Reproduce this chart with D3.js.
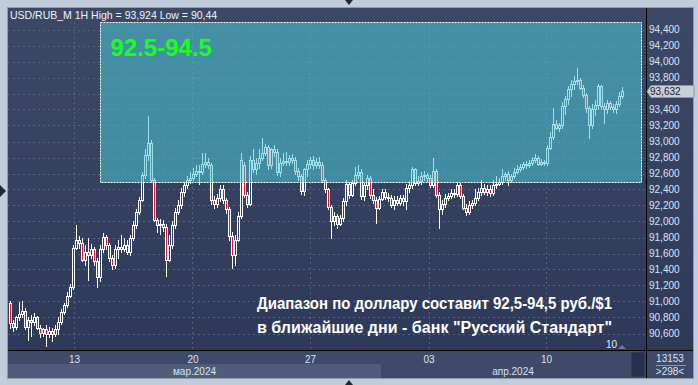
<!DOCTYPE html>
<html>
<head>
    <meta charset="utf-8">
    <title>USD/RUB_M 1H</title>
    <script src="https://d3js.org/d3.v7.min.js"></script>
    <style>
        body { margin: 0; background: #c2cddb; }
        svg { display: block; }
        text { font-family: "Liberation Sans", Arial, sans-serif; }
        .axis-label { fill: #d9e4f5; font-size: 10px; }
    </style>
</head>
<body>
    <svg id="chart"></svg>

    <script>
        // hourly candles, USD/RUB_M
        var opens = [
            90.98, 90.73, 90.68, 90.80, 90.85, 90.88, 90.68, 90.77, 90.74, 90.80,
            90.67, 90.61, 90.65, 90.60, 90.63, 90.60, 90.65, 90.74, 90.87, 90.96,
            91.07, 91.18, 91.67, 91.77, 91.73, 91.52, 91.62, 91.58, 91.65, 91.50,
            91.30, 91.65, 91.81, 91.70, 91.55, 91.45, 91.65, 91.68, 91.66, 91.71,
            91.62, 91.80, 91.96, 92.12, 92.27, 92.58, 92.83, 92.98, 92.52, 92.02,
            91.95, 91.97, 91.93, 91.52, 91.71, 91.96, 92.12, 92.20, 92.37, 92.45,
            92.52, 92.55, 92.60, 92.63, 92.62, 92.72, 92.75, 92.71, 92.27, 92.22,
            92.30, 92.40, 92.27, 92.15, 91.82, 91.58, 91.77, 92.07, 92.71, 92.33,
            92.22, 92.77, 92.65, 92.73, 92.80, 92.86, 92.93, 92.71, 92.90, 92.87,
            92.62, 92.73, 92.76, 92.75, 92.80, 92.77, 92.63, 92.57, 92.38, 92.65,
            92.72, 92.77, 92.70, 92.75, 92.71, 92.52, 92.40, 92.18, 92.00, 92.07,
            91.97, 92.05, 92.25, 92.47, 92.33, 92.48, 92.58, 92.62, 92.32, 92.45,
            92.55, 92.33, 92.27, 92.17, 92.28, 92.37, 92.31, 92.30, 92.21, 92.27,
            92.23, 92.30, 92.25, 92.42, 92.45, 92.65, 92.48, 92.51, 92.57, 92.58,
            92.55, 92.46, 92.63, 92.33, 92.15, 92.22, 92.30, 92.32, 92.36, 92.35,
            92.45, 92.32, 92.17, 92.12, 92.21, 92.23, 92.30, 92.37, 92.42, 92.37,
            92.40, 92.36, 92.45, 92.47, 92.50, 92.57, 92.60, 92.52, 92.57, 92.62,
            92.66, 92.68, 92.72, 92.71, 92.73, 92.77, 92.80, 92.72, 92.75, 92.73,
            92.92, 93.06, 93.22, 93.17, 93.20, 93.45, 93.53, 93.65, 93.72, 93.76,
            93.77, 93.67, 93.58, 93.42, 93.21, 93.40, 93.46, 93.70, 93.45, 93.40,
            93.48, 93.43, 93.40, 93.47, 93.57
        ];
        var highs = [
            91.01, 90.77, 90.82, 90.99, 91.01, 90.92, 90.80, 90.83, 90.86, 90.82,
            90.71, 90.67, 90.70, 90.68, 90.67, 90.70, 90.80, 90.91, 90.98, 91.12,
            91.22, 91.70, 91.96, 91.82, 91.80, 91.71, 91.80, 91.72, 91.68, 91.55,
            91.70, 91.86, 91.83, 91.73, 91.58, 91.70, 91.77, 91.83, 91.80, 91.77,
            91.83, 92.00, 92.15, 92.31, 92.62, 92.90, 93.32, 93.02, 92.55, 92.05,
            92.03, 92.02, 91.97, 91.83, 92.00, 92.17, 92.27, 92.42, 92.50, 92.57,
            92.62, 92.67, 92.70, 92.70, 92.86, 92.86, 92.80, 92.73, 92.32, 92.35,
            92.45, 92.45, 92.30, 92.18, 91.87, 91.83, 92.12, 92.86, 92.75, 92.37,
            92.82, 92.90, 92.80, 92.90, 93.05, 92.97, 92.96, 92.92, 92.95, 92.90,
            92.80, 92.86, 92.87, 92.83, 92.85, 92.81, 92.67, 92.60, 92.67, 92.77,
            92.81, 92.82, 92.80, 92.81, 92.75, 92.55, 92.42, 92.21, 92.12, 92.10,
            92.08, 92.30, 92.52, 92.50, 92.52, 92.68, 92.70, 92.65, 92.48, 92.58,
            92.57, 92.40, 92.31, 92.32, 92.41, 92.41, 92.36, 92.33, 92.32, 92.32,
            92.33, 92.33, 92.47, 92.51, 92.68, 92.67, 92.57, 92.62, 92.63, 92.61,
            92.58, 92.80, 92.66, 92.37, 92.27, 92.35, 92.36, 92.40, 92.41, 92.50,
            92.48, 92.35, 92.22, 92.25, 92.27, 92.40, 92.42, 92.52, 92.47, 92.45,
            92.46, 92.52, 92.57, 92.55, 92.65, 92.62, 92.63, 92.60, 92.67, 92.70,
            92.72, 92.75, 92.76, 92.77, 92.81, 92.85, 92.82, 92.78, 92.77, 92.96,
            93.12, 93.42, 93.27, 93.23, 93.50, 93.57, 93.70, 93.77, 93.82, 93.92,
            93.80, 93.71, 93.61, 93.45, 93.47, 93.52, 93.72, 93.71, 93.48, 93.52,
            93.51, 93.47, 93.51, 93.62, 93.68
        ];
        var lows = [
            90.67, 90.63, 90.65, 90.77, 90.80, 90.66, 90.52, 90.57, 90.71, 90.65,
            90.55, 90.57, 90.44, 90.55, 90.51, 90.57, 90.60, 90.72, 90.85, 90.93,
            91.05, 91.16, 91.65, 91.67, 91.50, 91.46, 91.27, 91.55, 91.46, 91.18,
            91.25, 91.62, 91.65, 91.50, 91.40, 91.42, 91.55, 91.62, 91.63, 91.60,
            91.58, 91.77, 91.92, 92.10, 92.25, 92.55, 92.77, 92.50, 92.00, 91.87,
            91.85, 91.88, 91.32, 91.50, 91.67, 91.92, 92.10, 92.17, 92.32, 92.42,
            92.48, 92.52, 92.57, 92.47, 92.60, 92.68, 92.67, 92.22, 92.17, 92.18,
            92.25, 92.23, 92.11, 91.77, 91.42, 91.46, 91.75, 92.05, 92.31, 92.18,
            92.20, 92.62, 92.60, 92.67, 92.77, 92.83, 92.65, 92.67, 92.82, 92.58,
            92.57, 92.70, 92.71, 92.70, 92.73, 92.60, 92.52, 92.35, 92.33, 92.57,
            92.67, 92.65, 92.67, 92.67, 92.50, 92.37, 92.15, 91.80, 91.95, 91.92,
            91.95, 92.00, 92.21, 92.30, 92.32, 92.45, 92.55, 92.28, 92.27, 92.40,
            92.30, 92.23, 91.98, 92.15, 92.27, 92.28, 92.26, 92.18, 92.16, 92.20,
            92.21, 92.20, 92.15, 92.37, 92.42, 92.45, 92.46, 92.47, 92.52, 92.51,
            92.43, 92.43, 92.31, 91.92, 92.10, 92.18, 92.27, 92.30, 92.31, 92.32,
            92.30, 92.15, 92.08, 92.10, 92.17, 92.21, 92.27, 92.33, 92.35, 92.33,
            92.32, 92.33, 92.42, 92.45, 92.47, 92.52, 92.46, 92.50, 92.55, 92.61,
            92.63, 92.66, 92.67, 92.68, 92.71, 92.75, 92.70, 92.70, 92.70, 92.71,
            92.90, 93.03, 93.15, 93.13, 93.17, 93.35, 93.47, 93.57, 93.65, 93.72,
            93.65, 93.56, 93.37, 93.05, 93.17, 93.33, 93.40, 93.41, 93.23, 93.36,
            93.41, 93.37, 93.36, 93.45, 93.55
        ];
        var closes = [
            90.73, 90.68, 90.80, 90.85, 90.88, 90.68, 90.77, 90.74, 90.80, 90.67,
            90.61, 90.65, 90.60, 90.63, 90.60, 90.65, 90.74, 90.87, 90.96, 91.07,
            91.18, 91.67, 91.77, 91.73, 91.52, 91.62, 91.58, 91.65, 91.50, 91.30,
            91.65, 91.81, 91.70, 91.55, 91.45, 91.65, 91.68, 91.66, 91.71, 91.62,
            91.80, 91.96, 92.12, 92.27, 92.58, 92.83, 92.98, 92.52, 92.02, 91.95,
            91.97, 91.93, 91.52, 91.71, 91.96, 92.12, 92.20, 92.37, 92.45, 92.52,
            92.55, 92.60, 92.63, 92.62, 92.72, 92.75, 92.71, 92.27, 92.22, 92.30,
            92.40, 92.27, 92.15, 91.82, 91.58, 91.77, 92.07, 92.77, 92.33, 92.22,
            92.77, 92.65, 92.73, 92.80, 92.86, 92.93, 92.71, 92.90, 92.87, 92.62,
            92.73, 92.76, 92.75, 92.80, 92.77, 92.63, 92.57, 92.38, 92.65, 92.72,
            92.77, 92.70, 92.75, 92.71, 92.52, 92.40, 92.18, 92.00, 92.07, 91.97,
            92.05, 92.25, 92.47, 92.33, 92.48, 92.58, 92.62, 92.32, 92.45, 92.55,
            92.33, 92.27, 92.17, 92.28, 92.37, 92.31, 92.30, 92.21, 92.27, 92.23,
            92.30, 92.25, 92.42, 92.45, 92.65, 92.48, 92.51, 92.57, 92.58, 92.55,
            92.46, 92.63, 92.33, 92.15, 92.22, 92.30, 92.32, 92.36, 92.35, 92.45,
            92.32, 92.17, 92.12, 92.21, 92.23, 92.30, 92.37, 92.42, 92.37, 92.40,
            92.36, 92.45, 92.47, 92.50, 92.57, 92.60, 92.52, 92.57, 92.62, 92.66,
            92.68, 92.72, 92.71, 92.73, 92.77, 92.80, 92.72, 92.75, 92.73, 92.92,
            93.06, 93.22, 93.17, 93.20, 93.45, 93.53, 93.65, 93.72, 93.76, 93.77,
            93.67, 93.58, 93.42, 93.21, 93.40, 93.46, 93.70, 93.45, 93.40, 93.48,
            93.43, 93.40, 93.47, 93.57, 93.632
        ];

        // price axis ticks
        var priceTicks = [90.6, 90.8, 91.0, 91.2, 91.4, 91.6, 91.8, 92.0, 92.2, 92.4,
                          92.6, 92.8, 93.0, 93.2, 93.4, 93.6, 93.8, 94.0, 94.2, 94.4];
        // day ticks (position in bar index units)
        var dayLabels = ['13', '20', '27', '03', '10'];
        var dayBars = [21.33, 60.83, 100, 139.5, 178.67];
        // month bands
        var monthLabels = ['мар.2024', 'апр.2024'];
        var monthBounds = [-0.67, 123.67, 211.67];

        // forecast zone
        var zoneLow = 92.5, zoneHigh = 94.5;
        var zoneBars = [30, 210.33];
        var lastPrice = 93.632;
        var headerText = 'USD/RUB_M 1H High = 93,924 Low = 90,44';
        var zoneText = '92.5-94.5';
        var noteLines = ['Диапазон по доллару составит 92,5-94,5 руб./$1',
                         'в ближайшие дни - банк "Русский Стандарт"'];

        var W = 698, H = 385;
        var panel = { left: 8, top: 8, right: 693, bottom: 378 };
        var plotRight = 646, plotBottom = 350;

        var svg = d3.select('#chart').attr('width', W).attr('height', H);

        var ru = d3.formatLocale({ decimal: ',', thousands: ' ', grouping: [3], currency: ['', ''] });
        var fmt = ru.format('.3f');

        var x = d3.scaleLinear().domain([0, closes.length - 1]).range([10, 622]);
        var y = d3.scaleLinear().domain([90.6, 94.4]).range([333.5, 29.5]);

        var defs = svg.append('defs');
        var grad = defs.append('linearGradient').attr('id', 'bg').attr('x1', 0).attr('y1', 0).attr('x2', 0).attr('y2', 1);
        grad.append('stop').attr('offset', '0%').attr('stop-color', '#3c4966');
        grad.append('stop').attr('offset', '100%').attr('stop-color', '#2d3858');
        defs.append('clipPath').attr('id', 'plotClip')
            .append('rect').attr('x', panel.left).attr('y', panel.top)
            .attr('width', plotRight - panel.left).attr('height', plotBottom - panel.top);

        // outer frame arrows
        svg.append('path').attr('d', 'M345,0 L353,0 L349,5 Z').attr('fill', '#1f2738');
        svg.append('path').attr('d', 'M345,385 L353,385 L349,380 Z').attr('fill', '#1f2738');
        svg.append('path').attr('d', 'M0,185 L0,197 L6,191 Z').attr('fill', '#1f2738');

        // panel background
        svg.append('rect')
            .attr('x', panel.left - 0.5).attr('y', panel.top - 0.5)
            .attr('width', panel.right - panel.left + 1).attr('height', panel.bottom - panel.top + 1)
            .attr('fill', 'url(#bg)').attr('stroke', '#8f9bad');

        // bottom axis bands
        svg.append('rect').attr('x', panel.left).attr('y', plotBottom + 1)
            .attr('width', panel.right - panel.left).attr('height', panel.bottom - plotBottom - 1)
            .attr('fill', '#3e4a68');
        svg.selectAll('.month-band')
            .data(monthLabels)
            .enter().append('rect')
            .attr('class', 'month-band')
            .attr('x', (d, i) => Math.max(panel.left, x(monthBounds[i])))
            .attr('y', 364)
            .attr('width', (d, i) => x(monthBounds[i + 1]) - Math.max(panel.left, x(monthBounds[i])))
            .attr('height', panel.bottom - 364)
            .attr('fill', (d, i) => i % 2 === 0 ? '#4f5d7a' : '#3e4a68');
        svg.append('rect').attr('x', 631).attr('y', 352).attr('width', 14).attr('height', 25)
            .attr('fill', '#27314b').attr('stroke', '#4a5670').attr('stroke-width', 0.5);

        var plot = svg.append('g').attr('clip-path', 'url(#plotClip)');

        // grid
        plot.selectAll('.hgrid')
            .data(priceTicks)
            .enter().append('line')
            .attr('class', 'hgrid')
            .attr('x1', panel.left).attr('x2', plotRight)
            .attr('y1', d => Math.round(y(d)) + 0.5).attr('y2', d => Math.round(y(d)) + 0.5)
            .attr('stroke', '#56637f').attr('stroke-dasharray', '2,3');
        plot.selectAll('.vgrid')
            .data(dayBars)
            .enter().append('line')
            .attr('class', 'vgrid')
            .attr('x1', d => Math.round(x(d)) + 0.5).attr('x2', d => Math.round(x(d)) + 0.5)
            .attr('y1', 22).attr('y2', plotBottom)
            .attr('stroke', '#56637f').attr('stroke-dasharray', '2,3');

        // candles
        var candles = closes.map((c, i) => ({ i: i, o: opens[i], h: highs[i], l: lows[i], c: c }));
        var cg = plot.selectAll('.candle')
            .data(candles)
            .enter().append('g')
            .attr('class', 'candle');

        function cx(d) { return Math.round(x(d.i)); }
        function bodyTop(d) { return Math.round(y(Math.max(d.o, d.c))); }
        function bodyBot(d) { return Math.round(y(Math.min(d.o, d.c))); }

        cg.append('line')
            .attr('x1', d => cx(d) + 0.5).attr('x2', d => cx(d) + 0.5)
            .attr('y1', d => Math.round(y(d.h))).attr('y2', d => bodyTop(d))
            .attr('stroke', '#ffffff');
        cg.append('line')
            .attr('x1', d => cx(d) + 0.5).attr('x2', d => cx(d) + 0.5)
            .attr('y1', d => bodyBot(d) + 1).attr('y2', d => Math.round(y(d.l)) + 1)
            .attr('stroke', '#ffffff');
        cg.append('rect')
            .attr('x', d => cx(d) - 0.5)
            .attr('y', d => bodyTop(d) + 0.5)
            .attr('width', 2)
            .attr('height', d => bodyBot(d) - bodyTop(d))
            .attr('fill', d => d.c < d.o ? '#e8112b' : 'none')
            .attr('stroke', '#ffffff');

        // forecast zone overlay
        var zx0 = Math.round(x(zoneBars[0])) + 0.5, zx1 = Math.round(x(zoneBars[1])) + 0.5;
        var zy0 = Math.round(y(zoneHigh)) + 0.5, zy1 = Math.round(y(zoneLow)) + 0.5;
        plot.append('rect')
            .attr('x', zx0).attr('y', zy0).attr('width', zx1 - zx0).attr('height', zy1 - zy0)
            .attr('fill', '#4ccbd9').attr('fill-opacity', 0.55);
        plot.append('rect')
            .attr('x', zx0).attr('y', zy0).attr('width', zx1 - zx0).attr('height', zy1 - zy0)
            .attr('fill', 'none').attr('stroke', '#ffffff').attr('stroke-dasharray', '2,1');

        svg.append('text')
            .attr('x', zx0 + 10).attr('y', 55.5)
            .attr('fill', '#1cff1c').style('font-size', '24px').style('font-weight', 'bold')
            .text(zoneText);

        // header
        svg.append('text')
            .attr('x', 10).attr('y', 18.5)
            .attr('fill', '#eef3fb').style('font-size', '10.5px')
            .text(headerText);

        // axis border lines
        svg.append('line').attr('x1', panel.left).attr('x2', panel.right)
            .attr('y1', plotBottom + 0.5).attr('y2', plotBottom + 0.5).attr('stroke', '#000');
        svg.append('line').attr('x1', plotRight + 0.5).attr('x2', plotRight + 0.5)
            .attr('y1', panel.top).attr('y2', panel.bottom).attr('stroke', '#000');

        // price axis labels (the one under the last-price box is hidden)
        svg.selectAll('.ylab')
            .data(priceTicks.filter(d => Math.abs(y(d) - y(lastPrice)) > 9))
            .enter().append('text')
            .attr('class', 'axis-label ylab')
            .attr('x', 649).attr('y', d => y(d) + 3.5)
            .text(d => fmt(d));

        // last price marker
        var ly = Math.round(y(lastPrice)) + 0.5;
        svg.append('path')
            .attr('d', 'M647,' + ly + ' L651,' + (ly - 6) + ' L694,' + (ly - 6) + ' L694,' + (ly + 6) + ' L651,' + (ly + 6) + ' Z')
            .attr('fill', '#c9ced7').attr('stroke', '#8c95a6');
        svg.append('text')
            .attr('x', 650).attr('y', ly + 3.5)
            .attr('fill', '#1b2232').style('font-size', '10px')
            .text(fmt(lastPrice));

        // time axis labels
        svg.selectAll('.xlab')
            .data(dayLabels)
            .enter().append('text')
            .attr('class', 'axis-label xlab')
            .attr('x', (d, i) => x(dayBars[i]) + 0.5).attr('y', 362.5)
            .attr('text-anchor', 'middle')
            .text(d => d);
        svg.selectAll('.mlab')
            .data(monthLabels)
            .enter().append('text')
            .attr('class', 'axis-label mlab')
            .attr('x', (d, i) => (Math.max(panel.left, x(monthBounds[i])) + x(monthBounds[i + 1])) / 2)
            .attr('y', 374.5)
            .attr('text-anchor', 'middle')
            .text(d => d);

        // bar counter box on the right
        svg.append('text').attr('class', 'axis-label').attr('x', 670).attr('y', 362)
            .attr('text-anchor', 'middle').text('13153');
        svg.append('line').attr('x1', 656).attr('x2', 686).attr('y1', 365.5).attr('y2', 365.5)
            .attr('stroke', '#8d99ad');
        svg.append('text').attr('class', 'axis-label').attr('x', 670).attr('y', 375)
            .attr('text-anchor', 'middle').text('>298<');

        // shift marker
        svg.append('text').attr('x', 606).attr('y', 348)
            .attr('fill', '#e6edf8').style('font-size', '10px').text('10');
        svg.append('path').attr('d', 'M618,349 L626,349 L622,345 Z').attr('fill', '#6d7a95');

        // comment text, both lines stretched to the same width as in the picture
        svg.selectAll('.note')
            .data(noteLines)
            .enter().append('text')
            .attr('class', 'note')
            .attr('x', 257).attr('y', (d, i) => 308.5 + i * 24)
            .attr('textLength', 355).attr('lengthAdjust', 'spacingAndGlyphs')
            .attr('fill', '#ffffff').style('font-size', '16px').style('font-weight', 'bold')
            .text(d => d);
    </script>
</body>
</html>
